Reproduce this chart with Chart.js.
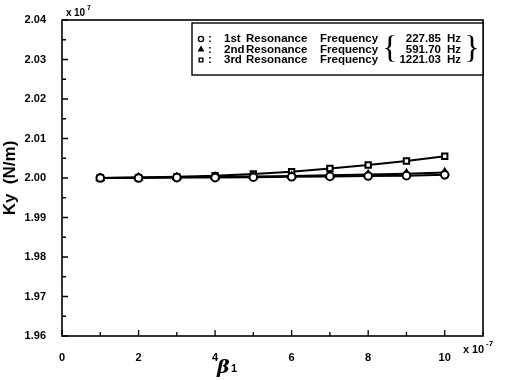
<!DOCTYPE html>
<html>
<head>
<meta charset="utf-8">
<script src="https://cdn.jsdelivr.net/npm/chart.js@4.4.1/dist/chart.umd.min.js"></script>
<style>
  html, body { margin: 0; padding: 0; background: #fff; }
  #wrap { width: 508px; height: 380px; }
</style>
</head>
<body>
<div id="wrap"><canvas id="c" width="508" height="380"></canvas></div>
<script>
// beta_1 values (x 10^-7)
const betaValues = [1, 2, 3, 4, 5, 6, 7, 8, 9, 10];
// Ky (x 10^7 N/m) for each resonance frequency
const kyFirst = [2.0000, 2.0000, 2.0001, 2.0001, 2.0002, 2.0003, 2.0004, 2.0005, 2.0006, 2.0008];
const kySecond = [2.0000, 2.0001, 2.0002, 2.0003, 2.0004, 2.0005, 2.0007, 2.0009, 2.0011, 2.0014];
const kyThird = [2.0000, 2.0001, 2.0003, 2.0006, 2.0010, 2.0016, 2.0024, 2.0033, 2.0043, 2.0055];
const seriesLabels = ['1st', '2nd', '3rd'];
const seriesFreqs = ['227.85', '591.70', '1221.03'];
const xTickLabels = ['0', '2', '4', '6', '8', '10'];

const FONT = '"Liberation Sans", Arial, sans-serif';

function pts(ys) {
  return betaValues.map((x, i) => ({ x, y: ys[i] }));
}

function makeSet(label, ys, style, fill) {
  return {
    label,
    data: pts(ys),
    borderColor: '#000',
    borderWidth: 2,
    pointStyle: style,
    pointRadius: 3.8,
    pointBorderWidth: 2,
    pointBorderColor: '#000',
    pointBackgroundColor: fill,
    tension: 0,
  };
}

// box, inward ticks, exponent notes and the beta title
const framePlugin = {
  id: 'frame',
  afterDraw(chart) {
    const { ctx, chartArea: a } = chart;
    const xs = chart.scales.x;
    const ys = chart.scales.y;
    ctx.save();
    ctx.strokeStyle = '#000';
    ctx.lineWidth = 1.6;
    ctx.strokeRect(a.left, a.top, a.right - a.left, a.bottom - a.top);

    ctx.lineWidth = 1.3;
    ctx.beginPath();
    for (let v = 0; v <= 11; v++) {
      const px = xs.getPixelForValue(v);
      const len = v % 2 === 0 ? 6 : 4;
      ctx.moveTo(px, a.bottom);
      ctx.lineTo(px, a.bottom - len);
    }
    for (let k = 0; k <= 16; k++) {
      const v = 1.96 + k * 0.005;
      const py = ys.getPixelForValue(v);
      const len = k % 2 === 0 ? 6 : 4;
      ctx.moveTo(a.left, py);
      ctx.lineTo(a.left + len, py);
    }
    ctx.stroke();

    ctx.fillStyle = '#000';
    ctx.textBaseline = 'alphabetic';
    ctx.textAlign = 'left';
    ctx.font = 'bold 10px ' + FONT;
    ctx.fillText('x', a.left + 4, a.top - 4);
    ctx.fillText('10', a.left + 12, a.top - 4);
    ctx.font = 'bold 7px ' + FONT;
    ctx.fillText('7', a.left + 25, a.top - 10);

    ctx.font = 'bold 11px ' + FONT;
    ctx.fillText('x', a.right - 20, a.bottom + 17);
    ctx.fillText('10', a.right - 11, a.bottom + 17);
    ctx.font = 'bold 8px ' + FONT;
    ctx.fillText('-7', a.right + 3, a.bottom + 10);

    ctx.font = 'italic bold 19px "DejaVu Serif", serif';
    ctx.fillText('β', 217, 373);
    ctx.font = 'bold 11px ' + FONT;
    ctx.fillText('1', 231, 372);
    ctx.restore();
  },
};

// legend box drawn in the style of the original plot
const legendPlugin = {
  id: 'boxLegend',
  afterDraw(chart) {
    const { ctx, chartArea: a } = chart;
    const left = 192;
    const top = a.top + 3;
    const right = a.right;
    const bottom = top + 52;
    ctx.save();
    ctx.strokeStyle = '#000';
    ctx.lineWidth = 1.4;
    ctx.fillStyle = '#fff';
    ctx.fillRect(left, top, right - left, bottom - top);
    ctx.strokeRect(left, top, right - left, bottom - top);

    const styles = ['circle', 'triangle', 'rect'];
    const fills = ['#fff', '#000', '#fff'];
    ctx.font = 'bold 11.5px ' + FONT;
    ctx.textBaseline = 'middle';
    for (let i = 0; i < 3; i++) {
      const y = top + 16 + i * 10.5;
      ctx.lineWidth = 1.4;
      ctx.strokeStyle = '#000';
      ctx.fillStyle = fills[i];
      Chart.helpers.drawPoint(ctx, { pointStyle: styles[i], radius: 2.6, rotation: 0, borderWidth: 1.4 }, 201, y);
      if (i === 1) ctx.fill();
      ctx.fillStyle = '#000';
      ctx.textAlign = 'left';
      ctx.fillText(':', 208, y);
      ctx.fillText(seriesLabels[i], 224, y);
      ctx.fillText('Resonance', 246, y);
      ctx.fillText('Frequency', 320, y);
      ctx.textAlign = 'right';
      ctx.fillText(seriesFreqs[i], 441, y);
      ctx.textAlign = 'left';
      ctx.fillText('Hz', 447, y);
    }
    ctx.font = '32px "Liberation Serif", serif';
    ctx.textBaseline = 'middle';
    ctx.textAlign = 'center';
    ctx.fillText('{', 390, top + 27);
    ctx.fillText('}', 472, top + 27);
    ctx.restore();
  },
};

new Chart(document.getElementById('c'), {
  type: 'line',
  data: {
    datasets: [
      makeSet('1st', kyFirst, 'circle', '#fff'),
      makeSet('2nd', kySecond, 'triangle', '#000'),
      makeSet('3rd', kyThird, 'rect', '#fff'),
    ],
  },
  options: {
    responsive: false,
    animation: false,
    layout: { padding: { top: 20, right: 25, left: 0, bottom: 0 } },
    plugins: { legend: { display: false }, tooltip: { enabled: false } },
    scales: {
      x: {
        type: 'linear',
        min: 0,
        max: 11,
        grid: { display: false },
        border: { display: false },
        afterFit(s) { s.height = 44; },
        afterBuildTicks(s) {
          s.ticks = xTickLabels.map((t) => ({ value: Number(t) }));
        },
        ticks: {
          color: '#000',
          padding: 7,
          maxRotation: 0,
          autoSkip: false,
          font: { family: FONT, size: 11, weight: 'bold' },
          callback: (v) => String(v),
        },
      },
      y: {
        min: 1.96,
        max: 2.04,
        grid: { display: false },
        border: { display: false },
        afterFit(s) { s.width = 62; },
        ticks: {
          stepSize: 0.01,
          color: '#000',
          padding: 8,
          font: { family: FONT, size: 11, weight: 'bold' },
          callback: (v) => Number(v).toFixed(2),
        },
        title: {
          display: true,
          text: 'Ky  (N/m)',
          color: '#000',
          padding: { top: 0, bottom: 0 },
          font: { family: FONT, size: 17, weight: 'bold' },
        },
      },
    },
  },
  plugins: [framePlugin, legendPlugin],
});
</script>
</body>
</html>
